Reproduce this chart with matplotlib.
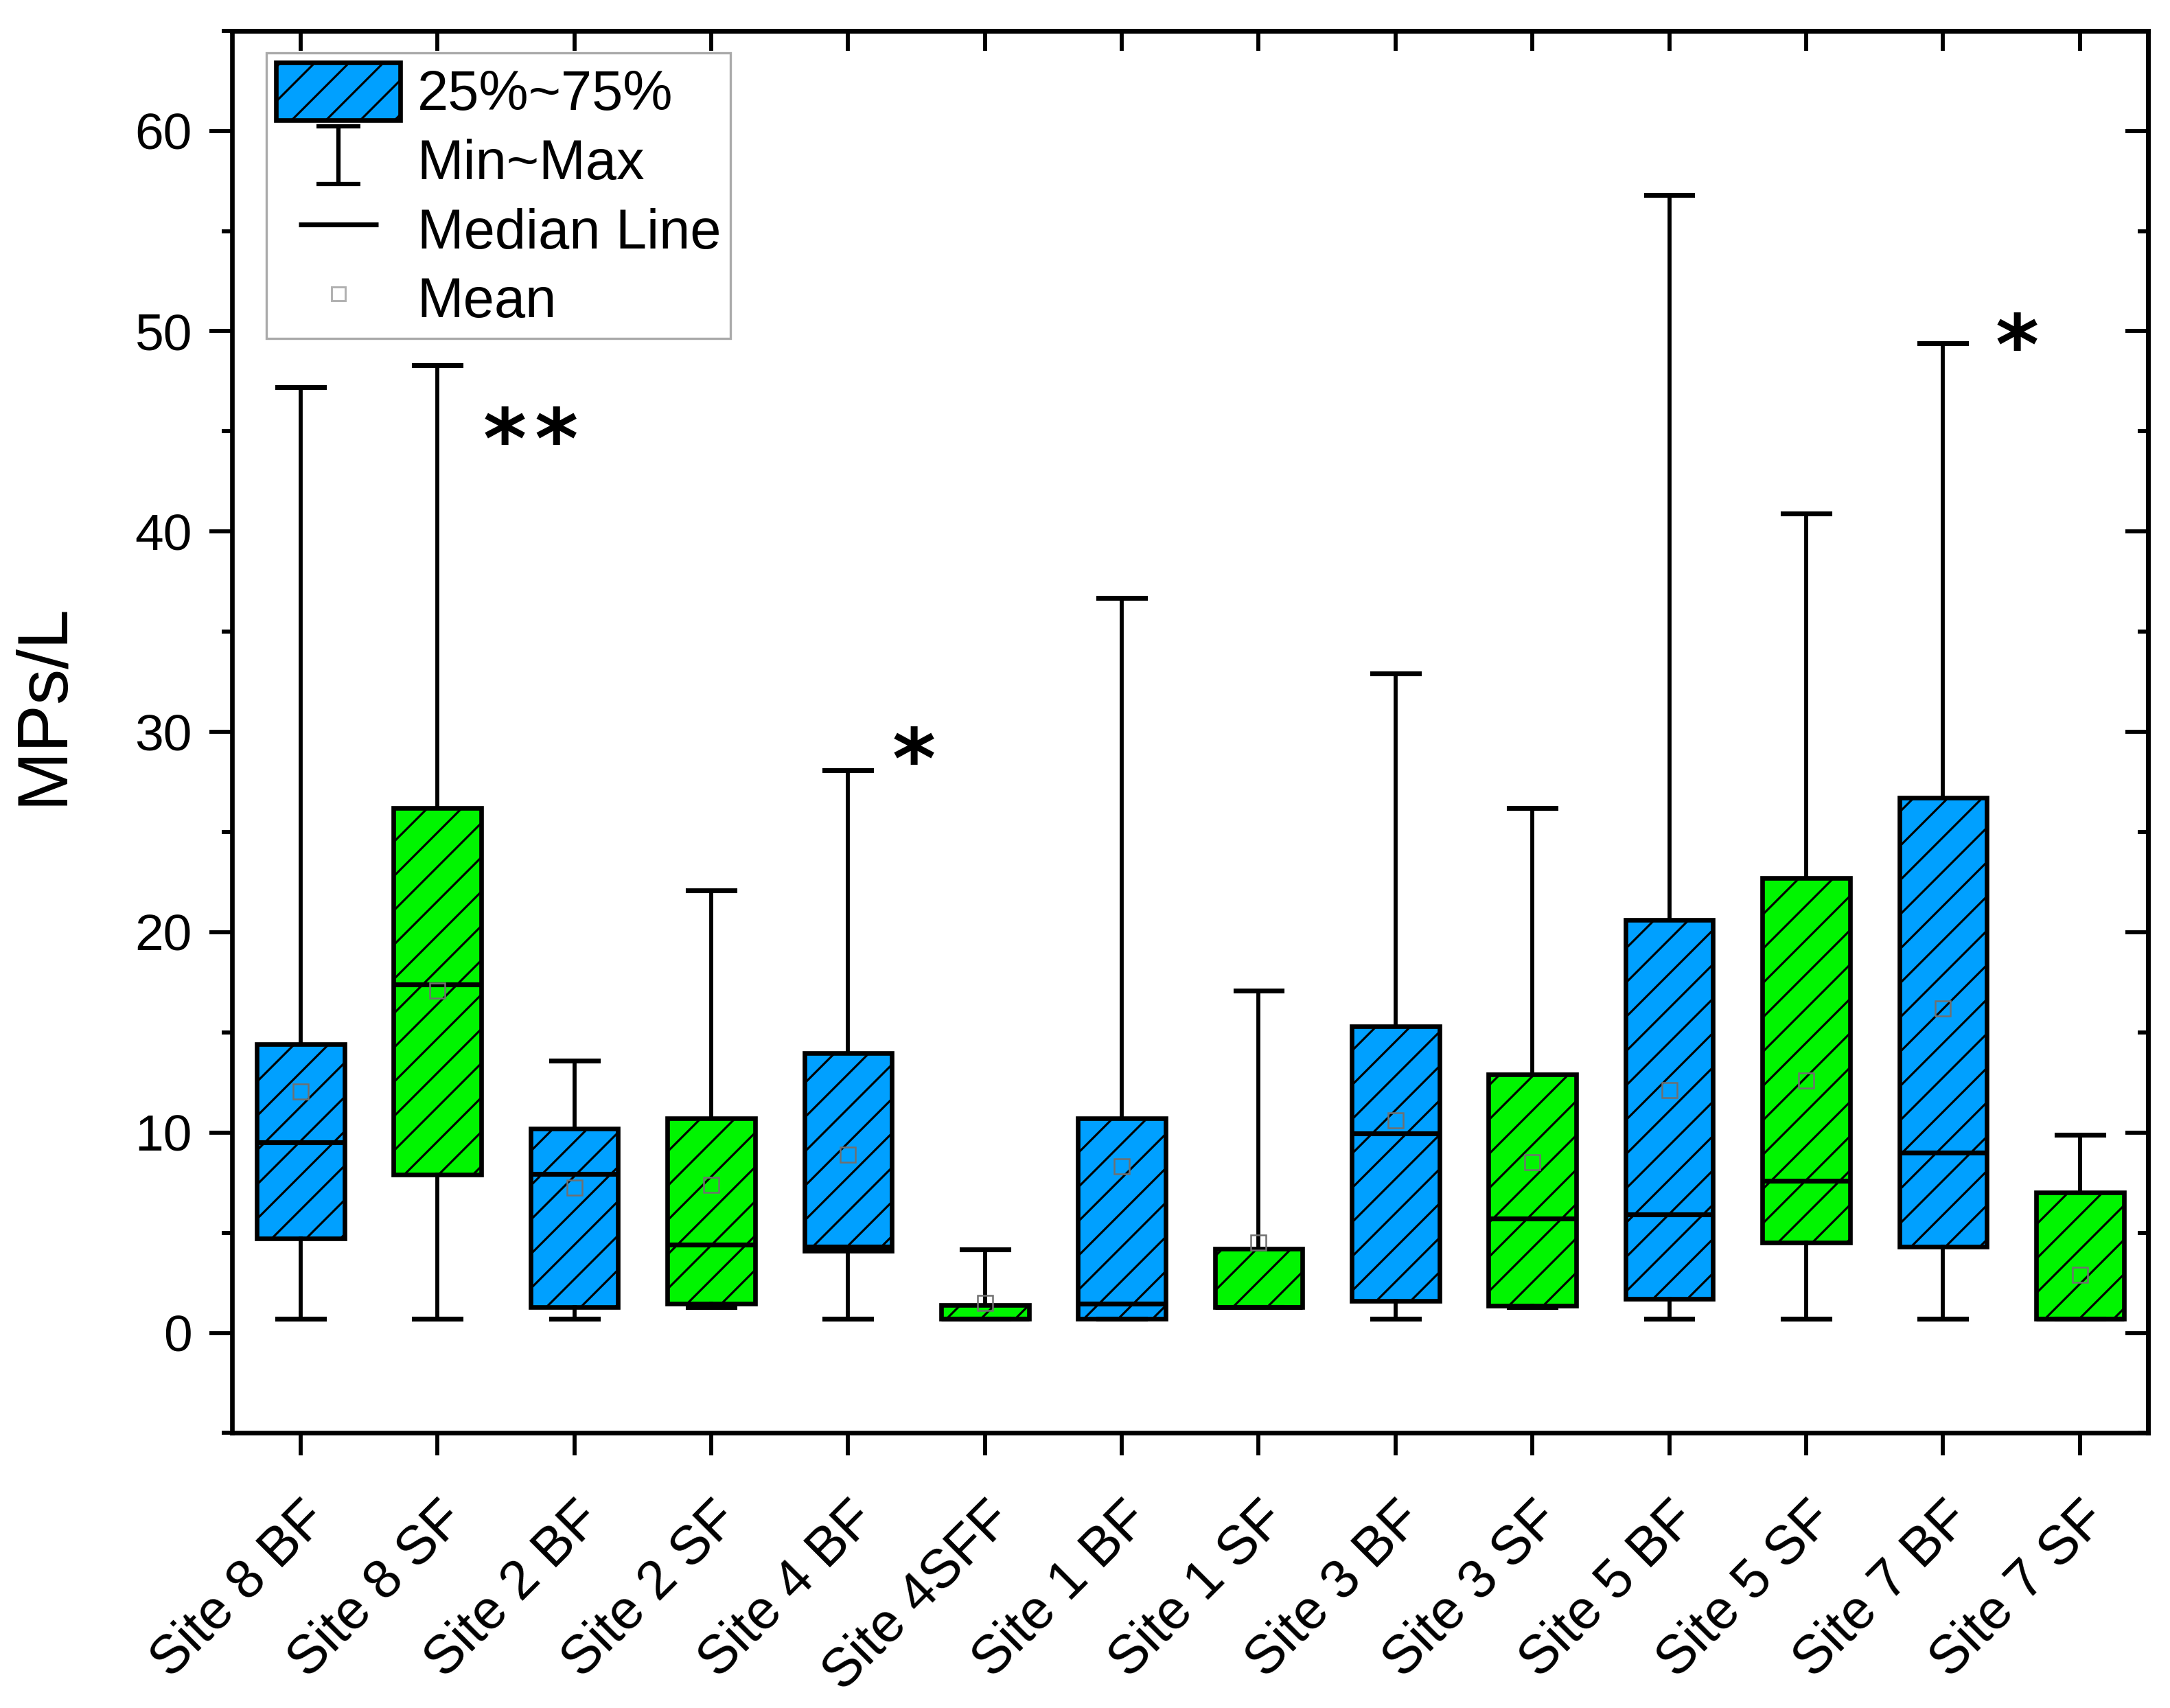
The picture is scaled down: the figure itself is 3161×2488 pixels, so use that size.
import matplotlib
matplotlib.use("Agg")
import matplotlib.pyplot as plt
import matplotlib.transforms as mtransforms
from matplotlib.patches import Patch
from matplotlib.lines import Line2D
from matplotlib.path import Path
from matplotlib.ticker import MultipleLocator

plt.rcParams['font.family'] = ['Liberation Sans', 'DejaVu Sans']
plt.rcParams['hatch.linewidth'] = 0.75

# values (MPs/L)
sites = ["Site 8 BF", "Site 8 SF", "Site 2 BF", "Site 2 SF", "Site 4 BF", "Site 4SFF", "Site 1 BF",
         "Site 1 SF", "Site 3 BF", "Site 3 SF", "Site 5 BF", "Site 5 SF", "Site 7 BF", "Site 7 SF"]
mins = [0.7, 0.7, 0.7, 1.3, 0.7, 0.7, 0.7, 1.3, 0.7, 1.3, 0.7, 0.7, 0.7, 0.7]
q1s = [4.7, 7.9, 1.3, 1.45, 4.1, 0.7, 0.7, 1.3, 1.6, 1.35, 1.7, 4.5, 4.3, 0.7]
medians = [9.5, 17.4, 7.95, 4.4, 4.3, 0.7, 1.45, 1.3, 9.95, 5.7, 5.9, 7.6, 9.0, 0.7]
q3s = [14.4, 26.2, 10.2, 10.7, 13.95, 1.4, 10.7, 4.2, 15.3, 12.9, 20.6, 22.7, 26.7, 7.0]
maxs = [47.2, 48.3, 13.6, 22.1, 28.1, 4.15, 36.7, 17.1, 32.9, 26.2, 56.8, 40.9, 49.4, 9.9]
means = [12.05, 17.1, 7.25, 7.4, 8.9, 1.5, 8.3, 4.5, 10.6, 8.5, 12.1, 12.6, 16.2, 2.9]
groups = ["BF", "SF", "BF", "SF", "BF", "SF", "BF", "SF", "BF", "SF", "BF", "SF", "BF", "SF"]

# significance marks: position, value, text
stars_x = [2.68, 5.48, 13.54]
stars_y = [45.3, 29.35, 50.0]
stars_txt = ["*\u200a*", "*", "*"]

blue = "#00A0FF"
green = "#00F500"
colors = {"BF": blue, "SF": green}

fig = plt.figure(figsize=(3161 / 300, 2488 / 300), dpi=300)
ax = fig.add_axes([0.107, 0.161, 0.883, 0.821])

pos = list(range(1, len(sites) + 1))
stats = []
for i in range(len(sites)):
    stats.append(dict(label=sites[i], whislo=mins[i], q1=q1s[i], med=medians[i],
                      q3=q3s[i], whishi=maxs[i], mean=means[i], fliers=[]))

bp = ax.bxp(stats, positions=pos, widths=0.64, capwidths=0.34, patch_artist=True,
            showmeans=True, showfliers=False,
            boxprops=dict(linewidth=1.6, edgecolor="black"),
            whiskerprops=dict(linewidth=1.4, color="black"),
            capprops=dict(linewidth=1.7, color="black"),
            medianprops=dict(linewidth=1.7, color="black"),
            meanprops=dict(marker="s", markersize=5.5, markerfacecolor="none",
                           markeredgecolor="#707070", markeredgewidth=0.6))
for box, g in zip(bp["boxes"], groups):
    box.set_facecolor(colors[g])
    box.set_hatch("//")

# asterisk glyph sits high in its line box, so shift the anchor down
for x, y, t in zip(stars_x, stars_y, stars_txt):
    ax.annotate(t, (x, y), xytext=(0, -7), textcoords="offset points",
                fontsize=29, fontweight="bold", ha="center", va="center", family="DejaVu Sans")

ax.set_xlim(0.5, 14.5)
ax.set_ylim(-5, 65)
ax.set_xticks(pos)
ax.set_xticklabels(sites, rotation=45, ha="right", rotation_mode="anchor", fontsize=19)
shift = mtransforms.ScaledTranslation(2 / 72, 0, fig.dpi_scale_trans)
for lab in ax.get_xticklabels():
    lab.set_transform(lab.get_transform() + shift)
ax.set_yticks([0, 10, 20, 30, 40, 50, 60])
ax.yaxis.set_minor_locator(MultipleLocator(5))
ax.tick_params(axis="y", which="major", direction="out", length=8, width=1.4, labelsize=18, pad=6)
ax.tick_params(axis="y", which="minor", direction="out", length=3.5, width=1.4)
ax.tick_params(axis="x", which="major", direction="out", length=8, width=1.4, pad=13)
for s in ax.spines.values():
    s.set_linewidth(1.6)

# top and right axes carry inward ticks only
top = ax.secondary_xaxis("top")
top.set_xticks(pos)
top.tick_params(direction="in", length=7, width=1.4, labeltop=False)
right = ax.secondary_yaxis("right")
right.set_yticks([0, 10, 20, 30, 40, 50, 60])
right.yaxis.set_minor_locator(MultipleLocator(5))
right.tick_params(which="major", direction="in", length=8, width=1.4, labelright=False)
right.tick_params(which="minor", direction="in", length=3.5, width=1.4)
for sec in (top, right):
    for s in sec.spines.values():
        s.set_linewidth(1.6)

ax.set_ylabel("MPs/L", fontsize=25)
ax.yaxis.set_label_coords(-0.081, 0.52)

ibar = Path([(-0.38, -0.5), (0.38, -0.5), (0, -0.5), (0, 0.5), (-0.38, 0.5), (0.38, 0.5)],
            [Path.MOVETO, Path.LINETO, Path.MOVETO, Path.LINETO, Path.MOVETO, Path.LINETO])
handles = [
    Patch(facecolor=blue, edgecolor="black", hatch="//", linewidth=1.6),
    Line2D([], [], linestyle="none", marker=ibar, markersize=20, markerfacecolor="none",
           markeredgecolor="black", markeredgewidth=1.5),
    Line2D([], [], linestyle="none", marker="_", markersize=28, markeredgecolor="black",
           markeredgewidth=1.7),
    Line2D([], [], linestyle="none", marker="s", markersize=5, markerfacecolor="none",
           markeredgecolor="#b0b0b0", markeredgewidth=0.7),
]
labels = ["25%~75%", "Min~Max", "Median Line", "Mean"]
leg = ax.legend(handles, labels, loc="upper left", bbox_to_anchor=(0.018, 0.984),
                borderaxespad=0, fontsize=19.5, fancybox=False, edgecolor="#aaaaaa",
                framealpha=1, handlelength=2.23, handleheight=1.2, borderpad=0.17,
                labelspacing=0.18, handletextpad=0.3)
leg.get_frame().set_linewidth(0.8)

fig.savefig("out.png", dpi=300)
